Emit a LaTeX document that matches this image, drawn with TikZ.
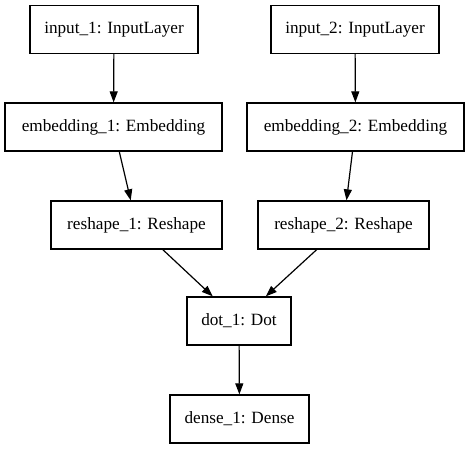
\documentclass[tikz,border=0pt]{standalone}
\usepackage{fontspec}
\setmainfont{Liberation Serif}
\usepackage{tikz}
\usetikzlibrary{arrows.meta}

\begin{document}
\begin{tikzpicture}[
    x=1pt, y=-1pt,
    layer/.style={draw, line width=1.3pt, inner sep=0pt, minimum height=48pt, align=center, font=\fontsize{17.2}{19}\selectfont},
    link/.style={-{Triangle[length=11pt, width=8pt]}, line width=1.2pt},
]
\useasboundingbox (0,0) rectangle (469,449);
% Two input branches
\node[layer, minimum width=168pt] (in1) at (114,29.5) {input\_1: InputLayer};
\node[layer, minimum width=168pt] (in2) at (355,29.5) {input\_2: InputLayer};
\node[layer, minimum width=217pt] (emb1) at (113.5,127) {embedding\_1: Embedding};
\node[layer, minimum width=217pt] (emb2) at (355.5,127) {embedding\_2: Embedding};
\node[layer, minimum width=171pt] (rs1) at (136.5,225) {reshape\_1: Reshape};
\node[layer, minimum width=171pt] (rs2) at (343.5,225) {reshape\_2: Reshape};

% Merge and output
\node[layer, minimum width=104pt] (dot1) at (239,321) {dot\_1: Dot};
\node[layer, minimum width=139pt] (dense1) at (239.5,419) {dense\_1: Dense};

% Edges
\draw[link] (in1) -- (emb1);
\draw[link] (in2) -- (emb2);
\draw[link] (emb1) -- (rs1);
\draw[link] (emb2) -- (rs2);
\draw[link] (rs1) -- (dot1);
\draw[link] (rs2) -- (dot1);
\draw[link] (dot1) -- (dense1);
\end{tikzpicture}
\end{document}
